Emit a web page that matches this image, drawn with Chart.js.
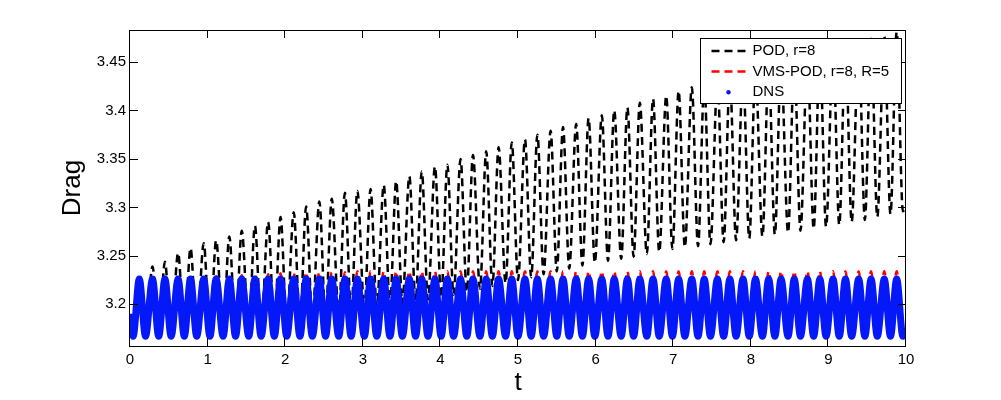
<!DOCTYPE html>
<html lang="en">
<head>
<meta charset="UTF-8">
<title>Drag</title>
<style>
    * { margin: 0; padding: 0; }
    body { background: #fff; width: 1001px; height: 400px; overflow: hidden; }
    canvas { display: block; }
</style>
</head>
<body>
<canvas id="dragChart" width="1001" height="400"></canvas>
<script src="https://cdn.jsdelivr.net/npm/chart.js@4"></script>
<script>
// axis ticks
const xTicks = [0, 1, 2, 3, 4, 5, 6, 7, 8, 9, 10];
const yTicks = [3.2, 3.25, 3.3, 3.35, 3.4, 3.45];

// times of the troughs and peaks (plus both ends)
const tEnds = [0, 10];
const tTrough = [0.04, 0.20, 0.37, 0.53, 0.70, 0.86, 1.03, 1.20, 1.36, 1.53, 1.69, 1.86, 2.02, 2.19, 2.35, 2.52,
    2.69, 2.85, 3.02, 3.18, 3.35, 3.51, 3.68, 3.84, 4.01, 4.17, 4.34, 4.51, 4.67, 4.84, 5.00, 5.17, 5.33, 5.50,
    5.66, 5.83, 5.99, 6.16, 6.33, 6.49, 6.66, 6.82, 6.99, 7.15, 7.32, 7.48, 7.65, 7.81, 7.98, 8.15, 8.31, 8.48,
    8.64, 8.81, 8.97, 9.14, 9.30, 9.47, 9.63, 9.80, 9.96];
const tPeak = [0.12, 0.29, 0.45, 0.62, 0.78, 0.95, 1.11, 1.28, 1.44, 1.61, 1.78, 1.94, 2.11, 2.27, 2.44, 2.60,
    2.77, 2.93, 3.10, 3.27, 3.43, 3.60, 3.76, 3.93, 4.09, 4.26, 4.42, 4.59, 4.75, 4.92, 5.09, 5.25, 5.42, 5.58,
    5.75, 5.91, 6.08, 6.24, 6.41, 6.57, 6.74, 6.91, 7.07, 7.24, 7.40, 7.57, 7.73, 7.90, 8.06, 8.23, 8.39, 8.56,
    8.73, 8.89, 9.06, 9.22, 9.39, 9.55, 9.72, 9.88];

// POD, r=8
const podEnds = [3.19, 3.30];
const podTrough = [3.165, 3.166, 3.166, 3.167, 3.168, 3.169, 3.170, 3.171, 3.172, 3.174,
    3.176, 3.178, 3.180, 3.182, 3.185, 3.187, 3.190, 3.192, 3.195, 3.197,
    3.199, 3.201, 3.203, 3.205, 3.207, 3.210, 3.213, 3.216, 3.219, 3.222,
    3.225, 3.228, 3.231, 3.234, 3.237, 3.240, 3.243, 3.245, 3.247, 3.249,
    3.252, 3.254, 3.257, 3.259, 3.260, 3.262, 3.264, 3.266, 3.268, 3.270,
    3.272, 3.274, 3.276, 3.278, 3.280, 3.282, 3.285, 3.287, 3.290, 3.293, 3.296];
const podPeak = [3.231, 3.239, 3.244, 3.253, 3.258, 3.263, 3.266, 3.270, 3.276, 3.281,
    3.285, 3.290, 3.295, 3.301, 3.306, 3.309, 3.315, 3.317, 3.319, 3.323,
    3.327, 3.332, 3.337, 3.342, 3.344, 3.350, 3.354, 3.358, 3.362, 3.367,
    3.370, 3.375, 3.379, 3.383, 3.386, 3.392, 3.395, 3.400, 3.403, 3.408,
    3.412, 3.415, 3.420, 3.424, 3.427, 3.431, 3.434, 3.438, 3.441, 3.445,
    3.448, 3.452, 3.455, 3.459, 3.462, 3.466, 3.469, 3.474, 3.477, 3.481];

// VMS-POD, r=8, R=5
const vmsEnds = [3.19, 3.172];
const vmsTrough = [3.167, 3.167, 3.167, 3.167, 3.167, 3.167, 3.167, 3.167, 3.167, 3.167,
    3.167, 3.167, 3.167, 3.167, 3.167, 3.167, 3.167, 3.167, 3.167, 3.167,
    3.167, 3.167, 3.167, 3.167, 3.167, 3.167, 3.167, 3.167, 3.167, 3.167,
    3.167, 3.167, 3.167, 3.167, 3.167, 3.167, 3.167, 3.167, 3.167, 3.167,
    3.167, 3.167, 3.167, 3.167, 3.167, 3.167, 3.167, 3.167, 3.167, 3.167,
    3.167, 3.167, 3.167, 3.167, 3.167, 3.167, 3.167, 3.167, 3.167, 3.167, 3.167];
const vmsPeak = [3.226, 3.226, 3.227, 3.227, 3.228, 3.228, 3.229, 3.229, 3.230, 3.231,
    3.231, 3.232, 3.232, 3.233, 3.233, 3.233, 3.233, 3.234, 3.234, 3.234,
    3.234, 3.234, 3.234, 3.234, 3.234, 3.234, 3.234, 3.234, 3.234, 3.234,
    3.234, 3.234, 3.234, 3.234, 3.234, 3.234, 3.234, 3.234, 3.234, 3.234,
    3.234, 3.234, 3.234, 3.234, 3.234, 3.234, 3.234, 3.234, 3.234, 3.234,
    3.234, 3.234, 3.234, 3.234, 3.234, 3.234, 3.234, 3.234, 3.234, 3.234];

// DNS
const dnsEnds = [3.19, 3.172];
const dnsTrough = [3.167, 3.167, 3.167, 3.167, 3.167, 3.167, 3.167, 3.167, 3.167, 3.167,
    3.167, 3.167, 3.167, 3.167, 3.167, 3.167, 3.167, 3.167, 3.167, 3.167,
    3.167, 3.167, 3.167, 3.167, 3.167, 3.167, 3.167, 3.167, 3.167, 3.167,
    3.167, 3.167, 3.167, 3.167, 3.167, 3.167, 3.167, 3.167, 3.167, 3.167,
    3.167, 3.167, 3.167, 3.167, 3.167, 3.167, 3.167, 3.167, 3.167, 3.167,
    3.167, 3.167, 3.167, 3.167, 3.167, 3.167, 3.167, 3.167, 3.167, 3.167, 3.167];
const dnsPeak = [3.226, 3.226, 3.226, 3.226, 3.226, 3.226, 3.226, 3.226, 3.226, 3.226,
    3.226, 3.226, 3.226, 3.226, 3.226, 3.226, 3.226, 3.226, 3.226, 3.226,
    3.226, 3.226, 3.226, 3.226, 3.226, 3.226, 3.226, 3.226, 3.226, 3.226,
    3.226, 3.226, 3.226, 3.226, 3.226, 3.226, 3.226, 3.226, 3.226, 3.226,
    3.226, 3.226, 3.226, 3.226, 3.226, 3.226, 3.226, 3.226, 3.226, 3.226,
    3.226, 3.226, 3.226, 3.226, 3.226, 3.226, 3.226, 3.226, 3.226, 3.226];

const FONT = "'Liberation Sans', Arial, sans-serif";
const BLUE = '#0518f8';

// puts troughs and peaks one after the other
function buildSeries(ends, troughs, peaks) {
    const pts = [{ x: tEnds[0], y: ends[0] }];
    for (let i = 0; i < tPeak.length; i++) {
        pts.push({ x: tTrough[i], y: troughs[i] });
        pts.push({ x: tPeak[i], y: peaks[i] });
    }
    pts.push({ x: tTrough[tTrough.length - 1], y: troughs[troughs.length - 1] });
    pts.push({ x: tEnds[1], y: ends[1] });
    return pts;
}

// box round the plot with inward ticks, like matlab
const frame = {
    id: 'frame',
    afterDatasetsDraw(chart) {
        const { ctx, chartArea: a, scales: { x, y } } = chart;
        ctx.save();
        ctx.strokeStyle = '#000';
        ctx.lineWidth = 1;
        ctx.beginPath();
        xTicks.forEach(v => {
            const px = Math.round(x.getPixelForValue(v)) - 0.5;
            ctx.moveTo(px, a.bottom); ctx.lineTo(px, a.bottom - 8);
            ctx.moveTo(px, a.top); ctx.lineTo(px, a.top + 8);
        });
        yTicks.forEach(v => {
            const py = Math.round(y.getPixelForValue(v)) + 0.5;
            ctx.moveTo(a.left, py); ctx.lineTo(a.left + 8, py);
            ctx.moveTo(a.right, py); ctx.lineTo(a.right - 8, py);
        });
        ctx.stroke();
        ctx.strokeRect(a.left - 0.5, a.top + 0.5, a.right - a.left, a.bottom - a.top);
        ctx.restore();
    }
};

// legend box in the top right corner
const legendBox = {
    id: 'legendBox',
    afterDraw(chart) {
        const { ctx, chartArea: a } = chart;
        const w = 201, h = 65;
        const left = a.right - 5 - w + 0.5, top = a.top + 8.5;
        ctx.save();
        ctx.fillStyle = '#fff';
        ctx.fillRect(left, top, w, h);
        ctx.strokeStyle = '#000';
        ctx.lineWidth = 1;
        ctx.strokeRect(left, top, w, h);
        ctx.font = '15px ' + FONT;
        ctx.textBaseline = 'middle';
        chart.data.datasets.forEach((ds, i) => {
            const ry = top + 12.5 + i * 20.6;
            if (ds.showMarker) {
                ctx.fillStyle = ds.borderColor;
                ctx.beginPath();
                ctx.arc(left + 28, ry, 2.2, 0, Math.PI * 2);
                ctx.fill();
            } else {
                ctx.strokeStyle = ds.borderColor;
                ctx.lineWidth = 2.5;
                ctx.setLineDash(ds.borderDash);
                ctx.beginPath();
                ctx.moveTo(left + 11, ry);
                ctx.lineTo(left + 48, ry);
                ctx.stroke();
                ctx.setLineDash([]);
            }
            ctx.fillStyle = '#000';
            ctx.fillText(ds.label, left + 52, ry);
        });
        ctx.restore();
    }
};

const ctx = document.getElementById('dragChart').getContext('2d');
new Chart(ctx, {
    type: 'line',
    data: {
        datasets: [{
            label: 'POD, r=8',
            data: buildSeries(podEnds, podTrough, podPeak),
            borderColor: '#000000',
            borderWidth: 2.5,
            borderDash: [8, 5],
            order: 2
        }, {
            label: 'VMS-POD, r=8, R=5',
            data: buildSeries(vmsEnds, vmsTrough, vmsPeak),
            borderColor: '#ff0000',
            borderWidth: 2.5,
            borderDash: [8, 5],
            order: 1
        }, {
            label: 'DNS',
            data: buildSeries(dnsEnds, dnsTrough, dnsPeak),
            borderColor: BLUE,
            borderWidth: 7,
            showMarker: true,
            order: 0
        }]
    },
    options: {
        responsive: false,
        devicePixelRatio: 1,
        animation: false,
        events: [],
        layout: { padding: { left: 0, right: 95, top: 30, bottom: 0 } },
        elements: {
            point: { radius: 0 },
            line: { cubicInterpolationMode: 'monotone', fill: false }
        },
        datasets: { line: { clip: 0 } },
        plugins: {
            legend: { display: false },
            tooltip: { enabled: false }
        },
        scales: {
            x: {
                type: 'linear',
                min: 0,
                max: 10,
                afterBuildTicks: s => { s.ticks = xTicks.map(v => ({ value: v })); },
                afterFit: s => { s.height = 54; },
                grid: { display: false, drawTicks: false },
                border: { display: false },
                ticks: { color: '#000', font: { family: FONT, size: 15 }, padding: 5, maxRotation: 0, autoSkip: false,
                    callback: v => String(v) },
                title: { display: true, text: 't', color: '#000', font: { family: FONT, size: 26 },
                    padding: { top: 0, bottom: 2 } }
            },
            y: {
                type: 'linear',
                min: 3.157,
                max: 3.483,
                afterBuildTicks: s => { s.ticks = yTicks.map(v => ({ value: v })); },
                afterFit: s => { s.width = 130; },
                grid: { display: false, drawTicks: false },
                border: { display: false },
                ticks: { color: '#000', font: { family: FONT, size: 15 }, padding: 4, autoSkip: false,
                    callback: v => String(v) },
                title: { display: true, text: 'Drag', color: '#000', font: { family: FONT, size: 26 },
                    padding: { top: 57, bottom: 0 } }
            }
        }
    },
    plugins: [frame, legendBox]
});
</script>
</body>
</html>
